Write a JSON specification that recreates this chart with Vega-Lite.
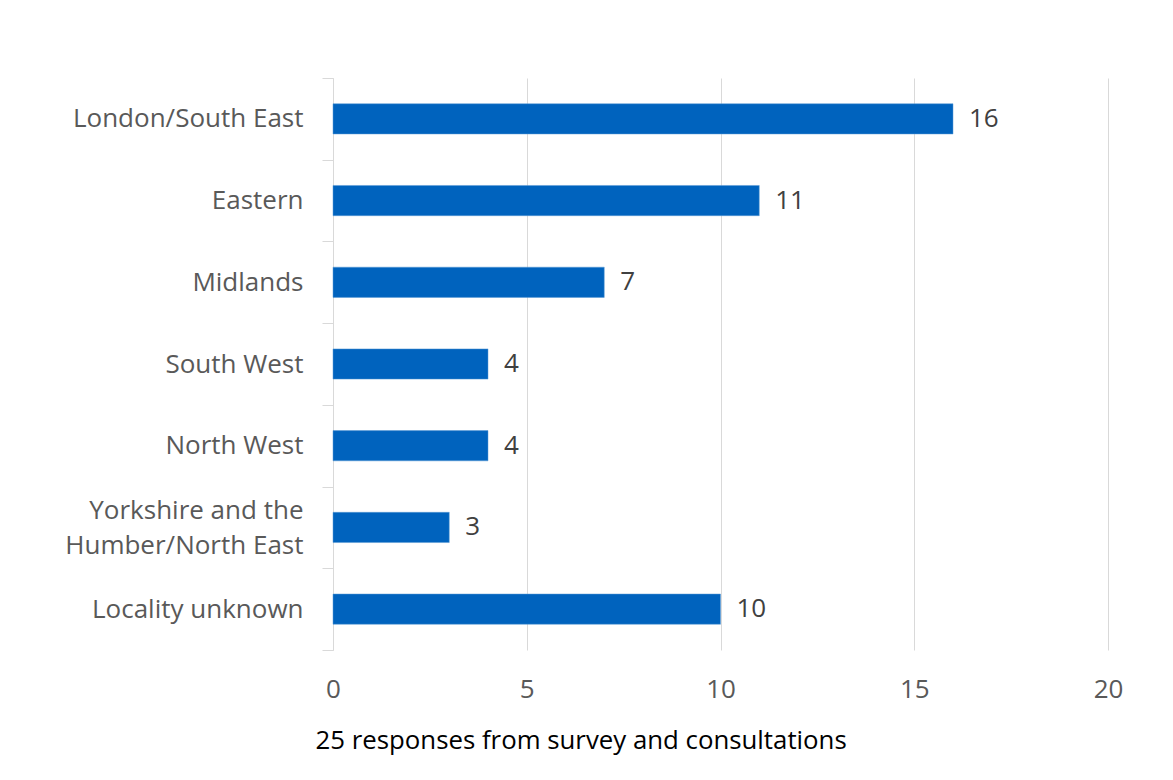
{
  "$schema": "https://vega.github.io/schema/vega-lite/v6.json",
  "width": 775,
  "height": 572,
  "autosize": {"type": "none"},
  "padding": {"left": 333, "top": 78, "right": 65, "bottom": 130},
  "background": "white",
  "config": {
    "view": {"stroke": null},
    "font": "Open Sans"
  },
  "data": {
    "values": [
      {"region": "London/South East", "count": 16},
      {"region": "Eastern", "count": 11},
      {"region": "Midlands", "count": 7},
      {"region": "South West", "count": 4},
      {"region": "North West", "count": 4},
      {"region": "Yorkshire and the Humber/North East", "count": 3},
      {"region": "Locality unknown", "count": 10}
    ]
  },
  "encoding": {
    "y": {
      "field": "region",
      "type": "nominal",
      "sort": null,
      "scale": {"paddingInner": 0, "paddingOuter": 0},
      "axis": {
        "title": null,
        "tickBand": "extent",
        "tickSize": 11,
        "tickColor": "#d9d9d9",
        "domainColor": "#d9d9d9",
        "labelColor": "#595959",
        "labelFont": "Open Sans",
        "labelFontSize": 26,
        "labelPadding": 19,
        "labelLineHeight": 35,
        "labelLimit": 400,
        "labelOffset": {"condition": {"test": "datum.value == 'Yorkshire and the Humber/North East'", "value": -17}, "value": 0},
        "labelExpr": "datum.label == 'Yorkshire and the Humber/North East' ? ['Yorkshire and the\u00a0\u00a0', 'Humber/North East'] : datum.label"
      }
    },
    "x": {
      "field": "count",
      "type": "quantitative",
      "scale": {"domain": [0, 20], "nice": false},
      "axis": {
        "values": [0, 5, 10, 15, 20],
        "grid": true,
        "gridColor": "#d9d9d9",
        "domain": false,
        "ticks": false,
        "labelFlush": false,
        "labelColor": "#595959",
        "labelFont": "Open Sans",
        "labelFontSize": 26,
        "labelPadding": 26,
        "title": "25 responses from survey and consultations",
        "titleFont": "Open Sans",
        "titleFontSize": 25.8,
        "titleFontWeight": "normal",
        "titleColor": "#000000",
        "titleAnchor": "start",
        "titleAlign": "left",
        "titleBaseline": "middle",
        "titleX": -18,
        "titleY": 90
      }
    }
  },
  "layer": [
    {
      "mark": {"type": "bar", "height": {"band": 0.37}, "color": "#0063be", "stroke": "#5b9bd5", "strokeWidth": 0.5}
    },
    {
      "mark": {"type": "text", "align": "left", "baseline": "middle", "dx": 16, "fontSize": 26, "color": "#404040", "font": "Open Sans"},
      "encoding": {"text": {"field": "count", "type": "quantitative"}}
    }
  ]
}
